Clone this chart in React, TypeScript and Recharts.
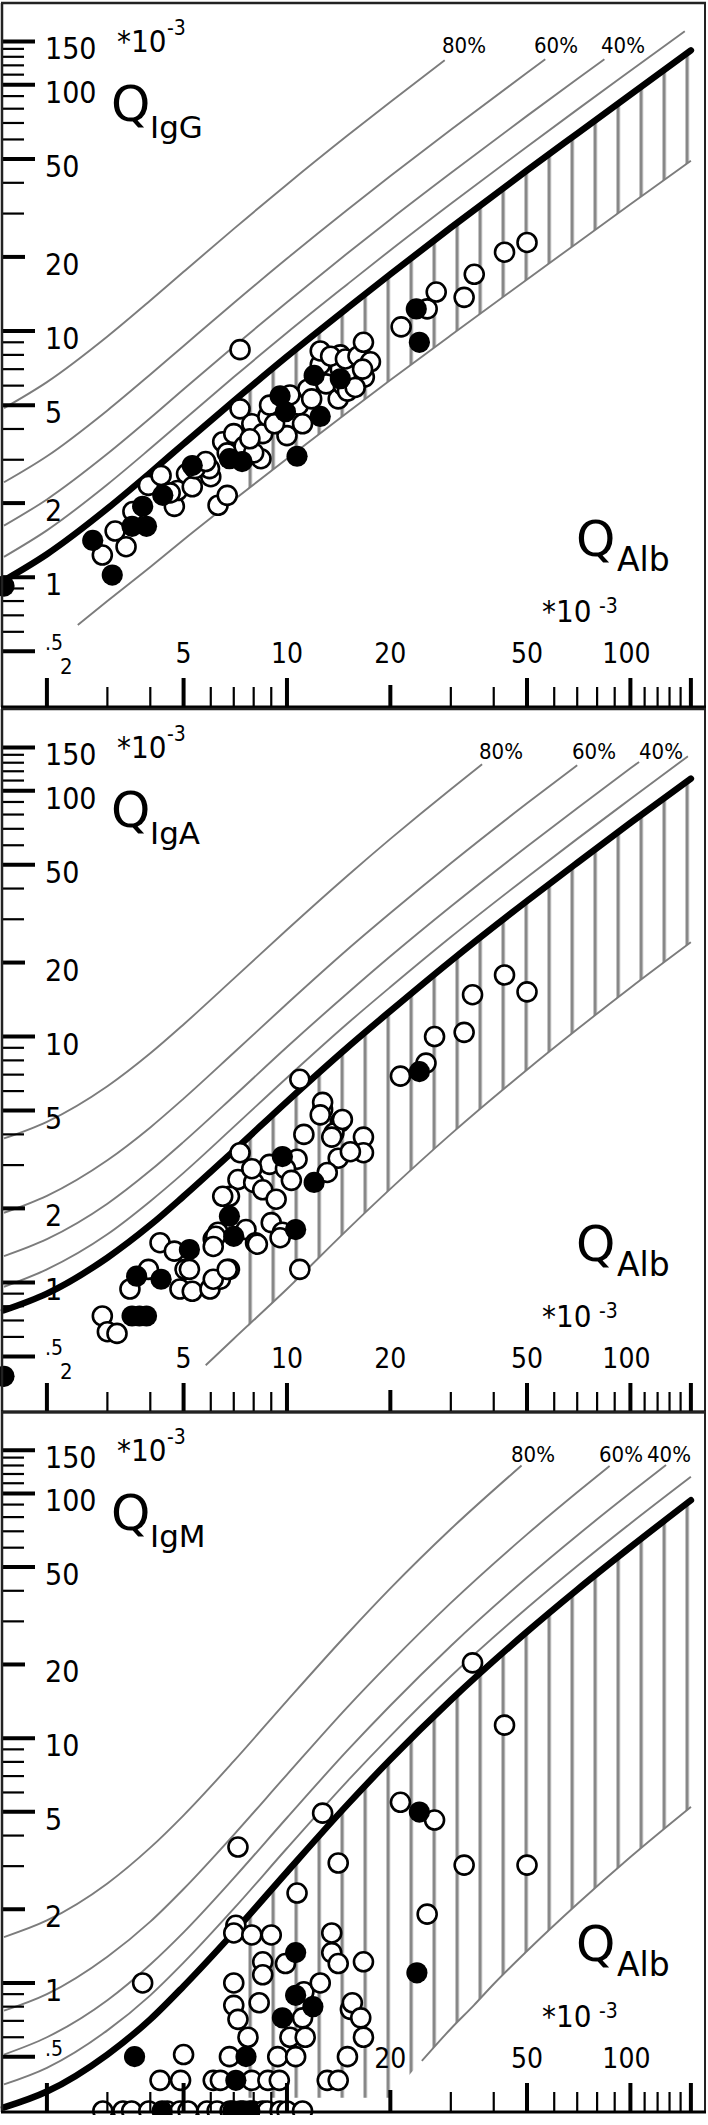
import React from 'react';
import { ComposedChart, Line, Area, Scatter, XAxis, YAxis } from 'recharts';

// Reibergrams: QIgG / QIgA / QIgM against QAlb (all *10^-3), log-log
const X_DOMAIN: [number, number] = [1.48, 166];
const Y_DOMAIN: [number, number] = [0.297, 215];

const xTicks = [2, 3, 4, 5, 6, 7, 8, 9, 10, 20, 30, 40, 50, 60, 70, 80, 90, 100, 110, 120, 130, 140, 150];
const yTicks = [0.5, 0.6, 0.7, 0.8, 0.9, 1, 2, 3, 4, 5, 6, 7, 8, 9, 10, 20, 30, 40, 50, 60, 70, 80, 90, 100, 110, 120, 130, 140, 150];
const xTickLabels: Record<number, string> = { 5: '5', 10: '10', 20: '20', 50: '50', 100: '100' };
const yTickLabels: Record<number, string> = { 1: '1', 2: '2', 5: '5', 10: '10', 20: '20', 50: '50', 100: '100', 150: '150' };

const qAlb = [1.5, 2, 3, 4, 5, 7, 10, 15, 20, 30, 50, 70, 100, 150];

// ---- IgG ----
const iggLimit = [0.97, 1.24, 1.9, 2.66, 3.48, 5.2, 7.88, 12.4, 17.0, 26.3, 44.9, 63.4, 91.3, 138];
const igg20 = [1.21, 1.55, 2.38, 3.33, 4.35, 6.5, 9.84, 15.5, 21.3, 32.9, 56.1, 79.3, 114];
const igg20End = [144, 165];
const igg40 = [1.62, 2.07, 3.17, 4.43, 5.8, 8.66, 13.1, 20.7, 28.4, 43.8, 74.8, 105.7];
const igg40End = [84, 127];
const igg60 = [2.43, 3.1, 4.76, 6.66, 8.7, 13.0, 19.7, 31.1, 42.6, 65.7, 112];
const igg60End = [56.5, 127];
const igg80 = [4.86, 6.2, 9.5, 13.3, 17.4, 26.0, 39.4, 62.2, 85.2];
const igg80End = [28.8, 126];
const iggLowerX = [2.46, 3, 4, 5, 7, 10, 15, 20, 30, 50, 70, 100, 150];
const iggLowerY = [0.64, 0.8, 1.1, 1.42, 2.06, 3.03, 4.67, 6.32, 9.61, 16.2, 22.8, 32.7, 49.2];
const iggHatchX = [7.7, 10, 15, 20, 30, 50, 70, 100, 150];
const iggHatchLow = [2.28, 3.03, 4.67, 6.32, 9.61, 16.2, 22.8, 32.7, 49.2];
const iggHatchHigh = [5.82, 7.88, 12.4, 17.0, 26.3, 44.9, 63.4, 91.3, 138];
const iggOpen = [
  [2.9, 1.23], [3.16, 1.54], [3.4, 1.33], [3.56, 1.85], [3.95, 2.36], [4.3, 2.59], [4.7, 1.94], [4.8, 2.25],
  [5.1, 2.63], [5.3, 2.33], [6.0, 2.56], [6.3, 1.96], [6.7, 2.15], [6.5, 3.55], [7.0, 3.83], [7.3, 4.83],
  [7.9, 4.2], [8.4, 3.03], [8.5, 3.83], [8.8, 4.5], [10, 3.76], [10.8, 5.0], [11.1, 4.2], [11.5, 5.8],
  [13.0, 6.1], [14.1, 5.3], [14.6, 6.0], [12.5, 7.3], [14.3, 7.0], [15, 5.7], [6.7, 3.2], [7.5, 3.4],
  [8.0, 3.2], [7.8, 3.65], [5.95, 2.76], [4.57, 2.2], [5.4, 2.76], [5.8, 2.95], [8.9, 5.0], [9.2, 4.2],
  [10.2, 5.5], [11.8, 5.3], [15.3, 6.7], [12.5, 8.3], [14.3, 8.0], [13.4, 7.9], [14.8, 7.7], [16.1, 7.9],
  [17.5, 7.5], [16.8, 6.5], [15.8, 5.9], [16.6, 7.0], [16.7, 9.0], [21.5, 10.4], [25.6, 12.3], [27.2, 14.4],
  [32.8, 13.7], [35.1, 17.0], [43, 20.9], [50, 22.9], [7.3, 8.4],
];
const iggFilled = [
  [1.5, 0.92], [2.72, 1.41], [3.1, 1.02], [3.54, 1.61], [3.9, 1.61], [3.8, 1.94], [4.35, 2.15], [5.3, 2.84],
  [6.8, 3.03], [7.4, 2.95], [9.55, 5.45], [9.9, 4.7], [10.7, 3.1], [12.5, 4.5], [12.0, 6.6], [14.3, 6.4],
  [24.3, 9.0], [23.8, 12.3],
];

// ---- IgA ----
const igaLimit = [0.77, 0.9, 1.26, 1.71, 2.24, 3.43, 5.44, 9.03, 12.7, 20.3, 35.6, 50.9, 74.0, 112];
const iga20 = [0.96, 1.13, 1.57, 2.14, 2.79, 4.29, 6.8, 11.3, 15.9, 25.4, 44.5, 63.7, 92.5];
const iga20End = [147, 138];
const iga40 = [1.28, 1.5, 2.09, 2.85, 3.73, 5.72, 9.07, 15.0, 21.2, 33.8, 59.3, 84.9, 123.3];
const iga40End = [106, 131];
const iga60 = [1.92, 2.25, 3.14, 4.27, 5.59, 8.59, 13.6, 22.6, 31.8, 50.7, 88.9];
const iga60End = [70, 127];
const iga80 = [3.85, 4.5, 6.28, 8.55, 11.2, 17.2, 27.2, 45.1, 63.7, 101.5];
const iga80End = [37, 128];
const igaLowerX = [5.8, 7, 10, 15, 20, 30, 50, 70, 100, 150];
const igaLowerY = [0.46, 0.59, 0.94, 1.64, 2.4, 4.01, 7.33, 10.7, 15.8, 24.2];
const igaHatchX = [7.7, 10, 15, 20, 30, 50, 70, 100, 150];
const igaHatchLow = [0.66, 0.94, 1.64, 2.4, 4.01, 7.33, 10.7, 15.8, 24.2];
const igaHatchHigh = [3.89, 5.44, 9.03, 12.7, 20.3, 35.6, 50.9, 74.0, 112];
const igaOpen = [
  [2.9, 0.73], [3.0, 0.63], [3.2, 0.62], [3.49, 0.94], [3.95, 1.13], [4.27, 1.45], [4.7, 1.34], [5.05, 1.13],
  [4.88, 0.94], [5.3, 0.92], [5.97, 0.94], [6.4, 1.03], [6.8, 1.13], [6.1, 1.5], [6.3, 1.6], [7.6, 1.64],
  [8.1, 1.45], [7.3, 3.37], [7.2, 2.62], [6.8, 2.24], [8.0, 2.55], [8.5, 2.38], [8.9, 3.02], [9.3, 2.18],
  [9.0, 1.75], [9.7, 1.6], [10.9, 1.13], [10.7, 3.17], [11.2, 4.0], [12.7, 5.05], [14.3, 4.5], [13.7, 4.05],
  [14.1, 3.2], [13.1, 2.8], [10.9, 6.7], [12.7, 5.4], [12.5, 4.8], [14.5, 4.6], [13.5, 3.9], [16.7, 3.9],
  [16.7, 3.37], [15.3, 3.4], [21.4, 6.9], [25.4, 7.8], [26.9, 10.0], [32.8, 10.4], [34.7, 14.8], [43, 17.8],
  [50, 15.2], [6.5, 2.24], [6.2, 1.54], [8.2, 1.43], [9.55, 1.52], [7.9, 2.9], [9.9, 2.9], [10.3, 2.6],
  [5.2, 1.13], [6.1, 1.03], [6.7, 1.13], [6.1, 1.4],
];
const igaFilled = [
  [1.5, 0.415], [3.54, 0.73], [3.72, 0.73], [3.9, 0.73], [3.65, 1.06], [4.3, 1.03], [5.2, 1.36], [6.8, 1.86],
  [7.0, 1.54], [9.7, 3.25], [10.6, 1.64], [12.0, 2.55], [24.3, 7.2],
];

// ---- IgM ----
const igmLimit = [0.31, 0.36, 0.51, 0.71, 0.97, 1.61, 2.84, 5.35, 8.18, 14.3, 27.2, 40.4, 60.3, 93.7];
const igm20 = [0.385, 0.45, 0.64, 0.89, 1.21, 2.01, 3.55, 6.68, 10.2, 17.9, 34.0, 50.5, 75.4, 117];
const igm40 = [0.51, 0.6, 0.85, 1.19, 1.61, 2.68, 4.73, 8.91, 13.6, 23.8, 45.3, 67.3, 100.5];
const igm40End = [127, 130.5];
const igm60 = [0.77, 0.9, 1.28, 1.78, 2.42, 4.03, 7.1, 13.4, 20.4, 35.7, 68.0, 101];
const igm60End = [87, 129.5];
const igm80 = [1.54, 1.8, 2.55, 3.57, 4.84, 8.05, 14.2, 26.7, 40.9, 71.5];
const igm80End = [48.2, 130];
const igmLowerX = [24.7, 30, 35, 40, 50, 70, 100, 150];
const igmLowerY = [0.48, 0.65, 0.81, 0.99, 1.35, 2.1, 3.27, 5.24];
const igmHatchX = [7.7, 10, 15, 20, 22, 25, 30, 40, 50, 70, 100, 150];
const igmHatchLow = [0.34, 0.34, 0.34, 0.34, 0.4, 0.49, 0.65, 0.99, 1.35, 2.1, 3.27, 5.24];
const igmHatchHigh = [1.87, 2.84, 5.35, 8.18, 9.37, 11.2, 14.3, 20.7, 27.2, 40.4, 60.3, 93.7];
const igmOpen = [
  [7.2, 3.59], [12.7, 4.94], [14.1, 3.09], [10.7, 2.33], [7.1, 1.72], [7.0, 1.6], [7.9, 1.57], [9.0, 1.57],
  [3.8, 1.0], [13.5, 1.6], [13.5, 1.33], [14.1, 1.2], [8.5, 1.22], [8.5, 1.08], [9.9, 1.2], [7.0, 1.0],
  [7.0, 0.81], [8.3, 0.83], [11.2, 0.92], [12.5, 1.0], [7.2, 0.71], [7.7, 0.6], [11.1, 0.72], [10.2, 0.6],
  [11.3, 0.6], [5.0, 0.51], [6.8, 0.5], [9.4, 0.5], [10.6, 0.5], [15, 0.5], [15.3, 0.78], [15.5, 0.83],
  [4.27, 0.4], [4.9, 0.4], [6.1, 0.4], [6.4, 0.4], [7.9, 0.4], [8.8, 0.4], [9.5, 0.4], [13.1, 0.4], [14.1, 0.4],
  [2.91, 0.3], [3.33, 0.3], [3.53, 0.3], [3.96, 0.3], [4.48, 0.3], [4.88, 0.3], [5.15, 0.3], [5.85, 0.3],
  [6.26, 0.3], [6.83, 0.3], [7.31, 0.3], [7.95, 0.3], [8.5, 0.3], [8.76, 0.3], [9.55, 0.3], [10.0, 0.3], [11.1, 0.3],
  [21.4, 5.47], [26.9, 4.63], [32.8, 3.03], [50, 3.03], [25.6, 1.91], [16.7, 1.22], [16.4, 0.72], [16.7, 0.6],
  [34.7, 20.3], [43, 11.3],
];
const igmFilled = [
  [10.6, 1.33], [10.6, 0.89], [11.9, 0.8], [9.7, 0.72], [3.6, 0.5], [7.6, 0.5], [7.1, 0.4], [24.3, 4.99],
  [23.9, 1.1], [4.33, 0.3], [6.96, 0.3], [7.46, 0.3], [7.8, 0.3],
];

const NUM_FONT = "'DejaVu Sans Condensed', 'DejaVu Sans', sans-serif";
const TXT_FONT = "'DejaVu Sans', sans-serif";
const GRAY = '#7c7c7c';

const onGrid = (ys: number[], end?: number[]) => {
  const pts = ys.map((y, i) => ({ x: qAlb[i], y }));
  if (end) pts.push({ x: end[0], y: end[1] });
  return pts;
};
const zip = (xs: number[], ys: number[]) => xs.map((x, i) => ({ x, y: ys[i] }));
const band = (xs: number[], lo: number[], hi: number[]) => xs.map((x, i) => ({ x, range: [lo[i], hi[i]] }));
const pts = (list: number[][]) => list.map(([x, y]) => ({ x, y }));

const panels = [
  {
    id: 'igg', sub: 'IgG', top: 0, height: 710, small2: true, hiddenX: [] as number[],
    limit: onGrid(iggLimit), lower: zip(iggLowerX, iggLowerY), hatch: band(iggHatchX, iggHatchLow, iggHatchHigh),
    fractions: [onGrid(igg20, igg20End), onGrid(igg40, igg40End), onGrid(igg60, igg60End), onGrid(igg80, igg80End)],
    labels: [442, 534, 601],
    open: pts(iggOpen), filled: pts(iggFilled),
  },
  {
    id: 'iga', sub: 'IgA', top: 706, height: 709, small2: true, hiddenX: [] as number[],
    limit: onGrid(igaLimit), lower: zip(igaLowerX, igaLowerY), hatch: band(igaHatchX, igaHatchLow, igaHatchHigh),
    fractions: [onGrid(iga20, iga20End), onGrid(iga40, iga40End), onGrid(iga60, iga60End), onGrid(iga80, iga80End)],
    labels: [479, 572, 639],
    open: pts(igaOpen), filled: pts(igaFilled),
  },
  {
    // 5 and 10 labels sit under the point cloud here, so they are not shown
    id: 'igm', sub: 'IgM', top: 1409, height: 706, small2: false, hiddenX: [5, 10],
    limit: onGrid(igmLimit), lower: zip(igmLowerX, igmLowerY), hatch: band(igmHatchX, igmHatchLow, igmHatchHigh),
    fractions: [onGrid(igm20), onGrid(igm40, igm40End), onGrid(igm60, igm60End), onGrid(igm80, igm80End)],
    labels: [511, 599, 647],
    open: pts(igmOpen), filled: pts(igmFilled),
  },
];

const OpenDot = (p: any) => <circle cx={p.cx} cy={p.cy} r={9.5} fill="#fff" stroke="#000" strokeWidth={2.6} />;
const FilledDot = (p: any) => <circle cx={p.cx} cy={p.cy} r={10.6} fill="#000" />;

// y ticks sit inside the frame, growing right from the left border
const renderYTick = (props: any) => {
  const { y, payload } = props;
  const v = payload.value;
  let len = 22;
  let w = 2.2;
  if ([0.5, 1, 5, 10, 50, 100, 150].includes(v)) { len = 33; w = 4; }
  else if (v === 2 || v === 20) { len = 23; w = 4; }
  return (
    <g key={`yt-${v}`}>
      <line x1={2} x2={2 + len} y1={y} y2={y} stroke="#000" strokeWidth={w} />
      {v === 0.5 && (
        <text x={45} y={y - 1} fontSize={21} fontFamily={NUM_FONT} fill="#000">.5</text>
      )}
      {yTickLabels[v] && (
        <text x={45} y={y + 18} fontSize={30} fontFamily={NUM_FONT} fill="#000">{yTickLabels[v]}</text>
      )}
    </g>
  );
};

// x ticks grow upward from the bottom axis, labels above them
const makeXTick = (bottom: number, small2: boolean, hidden: number[]) => (props: any) => {
  const { x, payload } = props;
  const v = payload.value;
  let len = 20;
  let w = 2.2;
  if ([2, 5, 10, 50, 100, 150].includes(v)) { len = 29; w = 4; }
  else if (v === 20) { len = 22; w = 4; }
  return (
    <g key={`xt-${v}`}>
      <line x1={x} x2={x} y1={bottom} y2={bottom - len} stroke="#000" strokeWidth={w} />
      {xTickLabels[v] && !hidden.includes(v) && (
        <text x={v === 100 ? x - 4 : x} y={bottom - 44} fontSize={28} fontFamily={NUM_FONT} textAnchor="middle" fill="#000">
          {xTickLabels[v]}
        </text>
      )}
      {v === 2 && small2 && (
        <text x={x + 13} y={bottom - 33} fontSize={22} fontFamily={NUM_FONT} fill="#000">2</text>
      )}
    </g>
  );
};

function Panel({ cfg }: { cfg: any }) {
  const T = 3;
  const B = cfg.height - 3;
  const pctNames = ['80%', '60%', '40%'];
  return (
    <div style={{ position: 'absolute', left: 0, top: cfg.top, width: 708, height: cfg.height }}>
      <ComposedChart width={708} height={cfg.height} margin={{ top: 3, right: 2, bottom: 2, left: 1 }}>
        <defs>
          <pattern id={`hatch-${cfg.id}`} patternUnits="userSpaceOnUse" x={248.5} y={0} width={23} height={20}>
            <rect x={0} y={0} width={3.3} height={20} fill="#888888" />
          </pattern>
        </defs>
        <XAxis
          type="number" dataKey="x" scale="log" domain={X_DOMAIN} ticks={xTicks} interval={0}
          height={1} axisLine={false} tickLine={false} tickSize={0}
          tick={makeXTick(B, cfg.small2, cfg.hiddenX)}
        />
        <YAxis
          type="number" dataKey="y" scale="log" domain={Y_DOMAIN} ticks={yTicks} interval={0}
          width={1} axisLine={false} tickLine={false} tickSize={0} tick={renderYTick}
        />
        <Area
          data={cfg.hatch} dataKey="range" type="monotone" stroke="none"
          fill={`url(#hatch-${cfg.id})`} fillOpacity={1} isAnimationActive={false}
        />
        <Line data={cfg.lower} dataKey="y" type="monotone" stroke={GRAY} strokeWidth={1.9} dot={false} isAnimationActive={false} />
        {cfg.fractions.map((d: any, i: number) => (
          <Line key={i} data={d} dataKey="y" type="monotone" stroke={GRAY} strokeWidth={1.9} dot={false} isAnimationActive={false} />
        ))}
        <Line
          data={cfg.limit} dataKey="y" type="monotone" stroke="#000" strokeWidth={6.5}
          strokeLinecap="round" dot={false} isAnimationActive={false}
        />
        <Scatter data={cfg.open} shape={OpenDot} isAnimationActive={false} />
        <Scatter data={cfg.filled} shape={FilledDot} isAnimationActive={false} />
      </ComposedChart>
      <svg width={708} height={cfg.height} style={{ position: 'absolute', left: 0, top: 0, pointerEvents: 'none' }}>
        <line x1={1} x2={706} y1={T} y2={T} stroke="#222" strokeWidth={2.5} />
        <line x1={2} x2={2} y1={T} y2={B} stroke="#222" strokeWidth={2.5} />
        <line x1={705} x2={705} y1={T} y2={B} stroke="#222" strokeWidth={2} />
        <line x1={1} x2={706} y1={B} y2={B} stroke="#000" strokeWidth={3} />
        <text x={117} y={T + 49} fontSize={31} fontFamily={NUM_FONT} fill="#000">*10</text>
        <text x={167} y={T + 32} fontSize={21} fontFamily={NUM_FONT} fill="#000">-3</text>
        <text x={111} y={T + 118} fontSize={50} fontFamily={TXT_FONT} fill="#000">Q</text>
        <text x={150} y={T + 135} fontSize={31} fontFamily={TXT_FONT} fill="#000">{cfg.sub}</text>
        {cfg.labels.map((lx: number, i: number) => (
          <text key={i} x={lx} y={T + 50} fontSize={22} fontFamily={NUM_FONT} fill="#000">{pctNames[i]}</text>
        ))}
        <text x={576} y={B - 151} fontSize={50} fontFamily={TXT_FONT} fill="#000">Q</text>
        <text x={617} y={B - 136} fontSize={33} fontFamily={TXT_FONT} fill="#000">Alb</text>
        <text x={542} y={B - 85} fontSize={31} fontFamily={NUM_FONT} fill="#000">*10</text>
        <text x={599} y={B - 94} fontSize={21} fontFamily={NUM_FONT} fill="#000">-3</text>
      </svg>
    </div>
  );
}

export default function App() {
  return (
    <div style={{ position: 'absolute', left: 0, top: 0, width: 708, height: 2125, background: '#fff', overflow: 'hidden' }}>
      {panels.map((p) => (
        <Panel key={p.id} cfg={p} />
      ))}
    </div>
  );
}
